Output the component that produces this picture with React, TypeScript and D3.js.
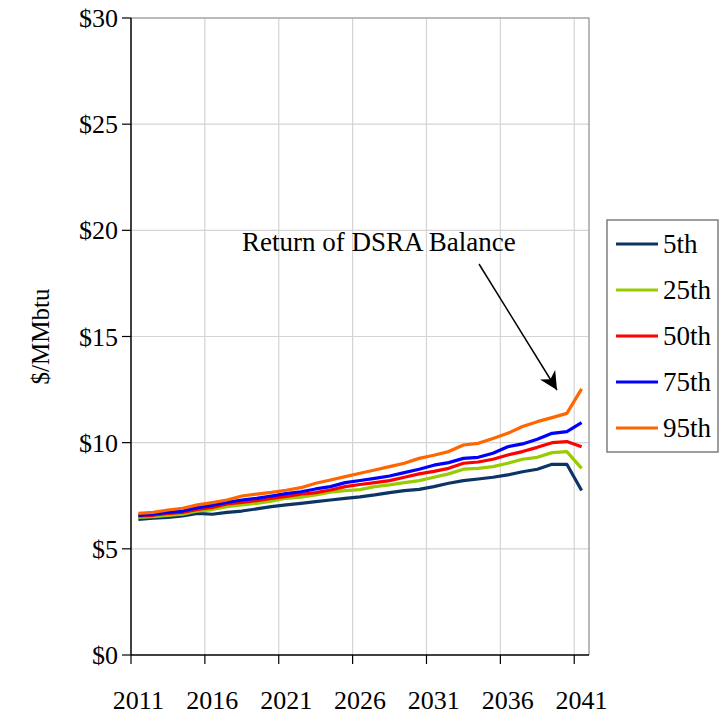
import React, { useEffect, useRef } from 'react';
import * as d3 from 'd3';

const years = d3.range(2011, 2042);
const tickYears = [2011, 2016, 2021, 2026, 2031, 2036, 2041];
const yTicks = [0, 5, 10, 15, 20, 25, 30];

const p5 = [6.39, 6.44, 6.48, 6.55, 6.67, 6.63, 6.72, 6.78, 6.88, 6.99, 7.07, 7.14, 7.22, 7.30, 7.38, 7.45, 7.54, 7.65, 7.74, 7.80, 7.93, 8.09, 8.21, 8.29, 8.37, 8.48, 8.63, 8.75, 8.98, 8.98, 7.75];
const p25 = [6.48, 6.52, 6.58, 6.63, 6.78, 6.85, 6.99, 7.07, 7.14, 7.25, 7.38, 7.43, 7.54, 7.67, 7.74, 7.79, 7.93, 8.01, 8.12, 8.21, 8.37, 8.53, 8.75, 8.79, 8.87, 9.03, 9.22, 9.31, 9.53, 9.58, 8.79];
const p50 = [6.55, 6.58, 6.67, 6.72, 6.86, 6.95, 7.11, 7.19, 7.27, 7.38, 7.47, 7.57, 7.65, 7.77, 7.93, 8.03, 8.12, 8.21, 8.37, 8.53, 8.65, 8.79, 9.03, 9.09, 9.22, 9.42, 9.58, 9.78, 10.0, 10.05, 9.81];
const p75 = [6.58, 6.63, 6.72, 6.78, 6.94, 7.05, 7.19, 7.30, 7.38, 7.49, 7.60, 7.69, 7.82, 7.93, 8.12, 8.22, 8.32, 8.43, 8.59, 8.75, 8.94, 9.06, 9.26, 9.31, 9.50, 9.81, 9.94, 10.16, 10.44, 10.52, 10.94];
const p95 = [6.67, 6.72, 6.83, 6.91, 7.07, 7.18, 7.30, 7.49, 7.58, 7.66, 7.76, 7.88, 8.09, 8.24, 8.40, 8.56, 8.71, 8.87, 9.03, 9.26, 9.41, 9.58, 9.89, 9.97, 10.2, 10.44, 10.76, 10.99, 11.18, 11.38, 12.53];

const seriesNames = ['5th', '25th', '50th', '75th', '95th'];
const seriesValues = [p5, p25, p50, p75, p95];
const seriesColors = ['#0b3564', '#99cc00', '#ff0000', '#0000ff', '#ff6600'];

const annotationText = 'Return of DSRA Balance';

const FONT = '"Liberation Serif", "Times New Roman", serif';

const App = () => {
    const ref = useRef<SVGSVGElement>(null);

    useEffect(() => {
        const svg = d3.select(ref.current);
        svg.selectAll('*').remove();

        const left = 131, right = 589, top = 18, bottom = 655;

        const x = d3.scaleBand<number>()
            .domain(years)
            .range([left, right])
            .paddingInner(0)
            .paddingOuter(0);
        const cx = (yr: number) => (x(yr) as number) + x.bandwidth() / 2;

        const y = d3.scaleLinear().domain([0, 30]).range([bottom, top]);

        // gridlines
        svg.append('g')
            .selectAll('line')
            .data(yTicks.filter(d => d > 0))
            .join('line')
            .attr('x1', left).attr('x2', right)
            .attr('y1', d => y(d)).attr('y2', d => y(d))
            .attr('stroke', '#d4d4d4').attr('stroke-width', 1.2);

        svg.append('g')
            .selectAll('line')
            .data(tickYears.slice(1))
            .join('line')
            .attr('x1', d => x(d) as number).attr('x2', d => x(d) as number)
            .attr('y1', top).attr('y2', bottom)
            .attr('stroke', '#d4d4d4').attr('stroke-width', 1.2);

        // plot border (top/right)
        svg.append('path')
            .attr('d', `M${left},${top}H${right}V${bottom}`)
            .attr('fill', 'none')
            .attr('stroke', '#8c8c8c')
            .attr('stroke-width', 1.2);

        // axes
        const yAxis = svg.append('g');
        yAxis.append('line')
            .attr('x1', left).attr('x2', left).attr('y1', top).attr('y2', bottom)
            .attr('stroke', '#000').attr('stroke-width', 1.5);
        yAxis.selectAll('line.tick')
            .data(yTicks)
            .join('line')
            .attr('class', 'tick')
            .attr('x1', left - 9).attr('x2', left)
            .attr('y1', d => y(d)).attr('y2', d => y(d))
            .attr('stroke', '#000').attr('stroke-width', 1.2);
        yAxis.selectAll('text')
            .data(yTicks)
            .join('text')
            .attr('x', left - 13)
            .attr('y', d => y(d))
            .attr('dy', '0.35em')
            .attr('text-anchor', 'end')
            .attr('font-family', FONT)
            .attr('font-size', 26)
            .text(d => `$${d}`);

        const xAxis = svg.append('g');
        xAxis.append('line')
            .attr('x1', left).attr('x2', right).attr('y1', bottom).attr('y2', bottom)
            .attr('stroke', '#000').attr('stroke-width', 1.5);
        xAxis.selectAll('line.tick')
            .data(tickYears)
            .join('line')
            .attr('class', 'tick')
            .attr('x1', d => x(d) as number).attr('x2', d => x(d) as number)
            .attr('y1', bottom).attr('y2', bottom + 9)
            .attr('stroke', '#000').attr('stroke-width', 1.2);
        xAxis.selectAll('text')
            .data(tickYears)
            .join('text')
            .attr('x', d => cx(d))
            .attr('y', 700)
            .attr('dy', '0.35em')
            .attr('text-anchor', 'middle')
            .attr('font-family', FONT)
            .attr('font-size', 26)
            .text(d => d);

        // y title
        svg.append('text')
            .attr('transform', `translate(40,${(top + bottom) / 2}) rotate(-90)`)
            .attr('dy', '0.35em')
            .attr('text-anchor', 'middle')
            .attr('font-family', FONT)
            .attr('font-size', 25)
            .text('$/MMbtu');

        // lines
        const line = d3.line<number>()
            .x((d, i) => cx(years[i]))
            .y(d => y(d));

        svg.append('g')
            .selectAll('path')
            .data(seriesValues)
            .join('path')
            .attr('fill', 'none')
            .attr('stroke', (d, i) => seriesColors[i])
            .attr('stroke-width', 3.2)
            .attr('stroke-linejoin', 'round')
            .attr('d', d => line(d));

        // annotation
        svg.append('defs').append('marker')
            .attr('id', 'arrowhead')
            .attr('viewBox', '0 0 10 10')
            .attr('refX', 10).attr('refY', 5)
            .attr('markerWidth', 18).attr('markerHeight', 18)
            .attr('markerUnits', 'userSpaceOnUse')
            .attr('orient', 'auto')
            .append('path')
            .attr('d', 'M0,0L10,5L0,10L3,5Z')
            .attr('fill', '#000');

        svg.append('text')
            .attr('x', 242)
            .attr('y', 251)
            .attr('font-family', FONT)
            .attr('font-size', 27)
            .text(annotationText);

        svg.append('line')
            .attr('x1', 479).attr('y1', 264)
            .attr('x2', 557).attr('y2', 390)
            .attr('stroke', '#000')
            .attr('stroke-width', 1.5)
            .attr('marker-end', 'url(#arrowhead)');

        // legend
        const legend = svg.append('g');
        legend.append('rect')
            .attr('x', 607).attr('y', 220)
            .attr('width', 111).attr('height', 232)
            .attr('fill', '#fff')
            .attr('stroke', '#7f7f7f')
            .attr('stroke-width', 1.5);
        const items = legend.selectAll('g')
            .data(seriesNames)
            .join('g')
            .attr('transform', (d, i) => `translate(0,${244 + i * 46})`);
        items.append('line')
            .attr('x1', 616).attr('x2', 658)
            .attr('stroke', (d, i) => seriesColors[i])
            .attr('stroke-width', 3.2);
        items.append('text')
            .attr('x', 663)
            .attr('dy', '0.35em')
            .attr('font-family', FONT)
            .attr('font-size', 27)
            .text(d => d);
    }, []);

    return (
        <svg
            ref={ref}
            width="726"
            height="714"
            style={{ position: 'absolute', left: 0, top: 0, background: '#fff' }}
        ></svg>
    );
};

export default App;
